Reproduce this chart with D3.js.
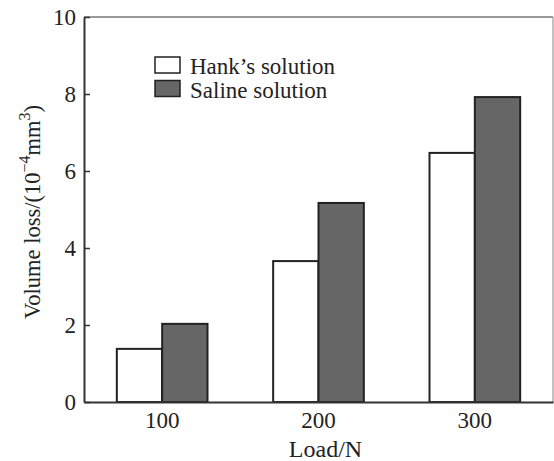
<!DOCTYPE html>
<html>
<head>
<meta charset="utf-8">
<script src="https://cdn.jsdelivr.net/npm/d3@7"></script>
<style>
  body { margin: 0; background: #fff; }
  text { font-family: "Liberation Serif", "Times New Roman", serif; fill: #222; }
</style>
</head>
<body>
<svg width="554" height="461"></svg>
<script>
const loads = ["100", "200", "300"];
const hank = [1.38, 3.66, 6.47];
const saline = [2.03, 5.17, 7.92];
const seriesNames = ["Hank\u2019s solution", "Saline solution"];
const seriesFill = ["#ffffff", "#666666"];
const yTicks = [0, 2, 4, 6, 8, 10];

const margin = { top: 17, right: 1, bottom: 59, left: 84 };
const width = 554 - margin.left - margin.right;
const height = 461 - margin.top - margin.bottom;

const svg = d3.select("svg");
const g = svg.append("g")
  .attr("transform", "translate(" + margin.left + "," + margin.top + ")");

const x = d3.scaleBand()
  .domain(loads)
  .range([0, width])
  .paddingInner(0.42)
  .paddingOuter(0.21);

const x1 = d3.scaleBand()
  .domain([0, 1])
  .range([0, x.bandwidth()]);

const y = d3.scaleLinear().domain([0, 10]).range([height, 0]);

// frame: top and right lighter
g.append("line").attr("x1", 0).attr("x2", width).attr("y1", 0).attr("y2", 0)
  .attr("stroke", "#777").attr("stroke-width", 1.5);
g.append("line").attr("x1", width).attr("x2", width).attr("y1", 0).attr("y2", height)
  .attr("stroke", "#999").attr("stroke-width", 1.2);

// bars
const rows = loads.map((l, i) => ({ load: l, values: [hank[i], saline[i]] }));
g.selectAll(".grp")
  .data(rows)
  .enter()
  .append("g")
  .attr("class", "grp")
  .attr("transform", d => "translate(" + x(d.load) + ",0)")
  .selectAll("rect")
  .data(d => d.values.map((v, k) => ({ k: k, v: v })))
  .enter()
  .append("rect")
  .attr("x", d => x1(d.k))
  .attr("y", d => y(d.v))
  .attr("width", x1.bandwidth())
  .attr("height", d => height - y(d.v))
  .attr("fill", d => seriesFill[d.k])
  .attr("stroke", "#222")
  .attr("stroke-width", 2);

// y axis
const yAxis = d3.axisLeft(y).tickValues(yTicks).tickSizeInner(-6).tickSizeOuter(0).tickPadding(8);
const ya = g.append("g").call(yAxis);
ya.select(".domain").attr("stroke", "#333").attr("stroke-width", 2);
ya.selectAll(".tick line").attr("stroke", "#333").attr("stroke-width", 1.5);
ya.selectAll(".tick text")
  .attr("font-size", "23px")
  .attr("font-family", "Liberation Serif, serif")
  .attr("fill", "#1a1a1a");

// x axis
const xAxis = d3.axisBottom(x).tickSize(0).tickPadding(10);
const xa = g.append("g").attr("transform", "translate(0," + height + ")").call(xAxis);
xa.select(".domain").attr("stroke", "#333").attr("stroke-width", 2);
xa.selectAll(".tick text")
  .attr("font-size", "23px")
  .attr("font-family", "Liberation Serif, serif")
  .attr("fill", "#1a1a1a");

// axis titles
svg.append("text")
  .attr("x", margin.left + width / 2 + 7)
  .attr("y", 457)
  .attr("text-anchor", "middle")
  .attr("font-size", "24px")
  .text("Load/N");

const yl = svg.append("text")
  .attr("transform", "translate(40,212) rotate(-90)")
  .attr("text-anchor", "middle")
  .attr("font-size", "22.5px");
yl.append("tspan").text("Volume loss/(10");
yl.append("tspan").attr("dy", -10).attr("font-size", "16px").text("\u22124");
yl.append("tspan").attr("dy", 10).text("mm");
yl.append("tspan").attr("dy", -10).attr("font-size", "16px").text("3");
yl.append("tspan").attr("dy", 10).text(")");

// legend
const legend = svg.append("g").attr("transform", "translate(155,57)");
seriesNames.forEach((name, i) => {
  legend.append("rect")
    .attr("x", 0).attr("y", i * 23.5)
    .attr("width", 25).attr("height", 16)
    .attr("fill", seriesFill[i])
    .attr("stroke", "#222").attr("stroke-width", 1.5);
  legend.append("text")
    .attr("x", 35).attr("y", i * 24 + 17)
    .attr("font-size", "23px")
    .text(name);
});
</script>
</body>
</html>
